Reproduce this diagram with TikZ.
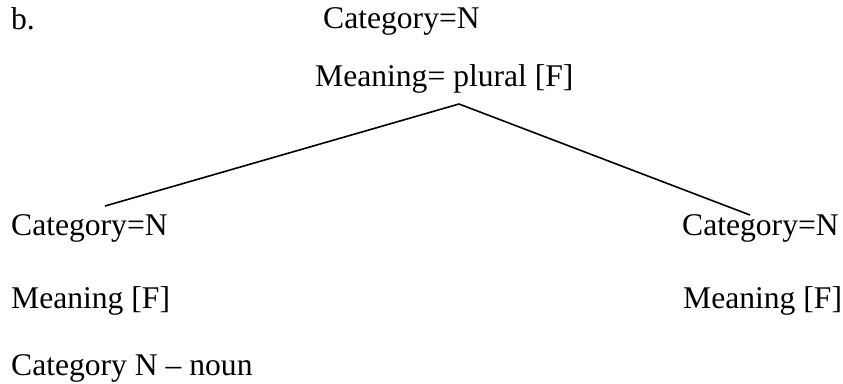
\documentclass[tikz,border=0pt]{standalone}
\usepackage{fontspec}
\setmainfont{Liberation Serif}
\begin{document}
\begin{tikzpicture}[x=1pt,y=-1pt,
  lbl/.style={anchor=base west,inner sep=0pt,font=\fontsize{31.6}{36}\selectfont},
  branch/.style={line width=1.6pt}]
\useasboundingbox (0,0) rectangle (843,383);
\node[lbl] (b) at (11,29) {b.};
\node[lbl] (topcat) at (323,28) {Category=N};
\node[lbl] (topmean) at (315,86) {Meaning= plural [F]};
\node[lbl] (lcat) at (11,235) {Category=N};
\node[lbl] (lmean) at (11,308) {Meaning [F]};
\node[lbl] (note) at (11,375) {Category N -- noun};
\node[lbl] (rcat) at (682,235) {Category=N};
\node[lbl] (rmean) at (683,308) {Meaning [F]};
\coordinate (apex) at (459,104);
\coordinate (lend) at (105,206);
\coordinate (rend) at (750,215);
\draw[branch] (apex) -- (lend);
\draw[branch] (apex) -- (rend);
\end{tikzpicture}
\end{document}
